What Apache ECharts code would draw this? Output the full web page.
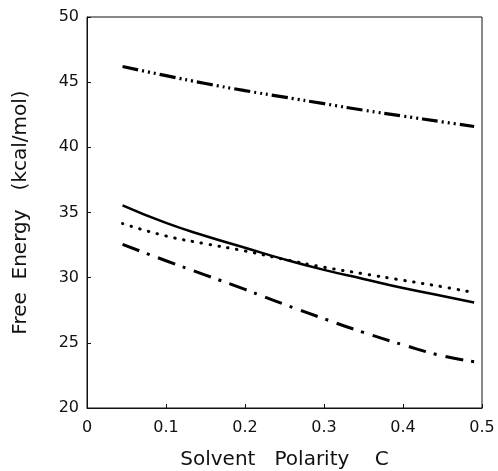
<!DOCTYPE html>
<html>
<head>
<meta charset="utf-8">
<script src="https://cdn.jsdelivr.net/npm/echarts@6/dist/echarts.min.js"></script>
<style>
html,body{margin:0;padding:0;background:#fff;}
#chart{width:498px;height:471px;}
</style>
</head>
<body>
<div id="chart"></div>
<script>
var polarity = [0.045, 0.1, 0.15, 0.2, 0.25, 0.3, 0.35, 0.4, 0.45, 0.49];
var dashDotDotSeries = [46.2, 45.5, 44.9, 44.35, 43.85, 43.35, 42.85, 42.4, 41.95, 41.6];
var solidSeries = [35.55, 34.2, 33.2, 32.3, 31.4, 30.6, 29.9, 29.2, 28.6, 28.1];
var dottedSeries = [34.15, 33.2, 32.6, 32.05, 31.4, 30.8, 30.3, 29.8, 29.3, 28.85];
var dashDotSeries = [32.55, 31.3, 30.2, 29.1, 27.95, 26.85, 25.8, 24.85, 24.0, 23.55];
var xTicks = [0, 0.1, 0.2, 0.3, 0.4, 0.5];
var yTicks = [20, 25, 30, 35, 40, 45, 50];

function pairs(ys){ return polarity.map(function(x,i){ return [x, ys[i]]; }); }

var font = '"DejaVu Sans", Arial, Helvetica, sans-serif';
var chart = echarts.init(document.getElementById('chart'), null, {renderer:'canvas'});
chart.setOption({
  animation: false,
  backgroundColor: '#fff',
  grid: {left: 87, right: 16, top: 17, bottom: 63, show: true, borderColor: '#111', borderWidth: 1, outerBoundsMode: 'none', containLabel: false},
  xAxis: {
    type: 'value', min: 0, max: 0.5, interval: 0.1,
    name: 'Solvent   Polarity    C', nameLocation: 'middle', nameGap: 42,
    nameTextStyle: {fontFamily: font, fontSize: 20, color: '#111'},
    axisLine: {show: true, lineStyle: {color: '#111', width: 1}},
    axisTick: {show: true, inside: true, length: 4, lineStyle: {color: '#111'}},
    axisLabel: {fontFamily: font, fontSize: 16, color: '#111', margin: 12,
      formatter: function(v){ return xTicks.indexOf(Math.round(v*10)/10) >= 0 ? String(Math.round(v*10)/10) : ''; }},
    splitLine: {show: false}
  },
  yAxis: {
    type: 'value', min: 20, max: 50, interval: 5,
    name: 'Free  Energy   (kcal/mol)', nameLocation: 'middle', nameGap: 56,
    nameTextStyle: {fontFamily: font, fontSize: 20, color: '#111'},
    axisLine: {show: true, lineStyle: {color: '#111', width: 1}},
    axisTick: {show: true, inside: true, length: 4, lineStyle: {color: '#111'}},
    axisLabel: {fontFamily: font, fontSize: 16, color: '#111', margin: 8,
      formatter: function(v){ return yTicks.indexOf(v) >= 0 ? String(v) : ''; }},
    splitLine: {show: false}
  },
  series: [
    {type: 'line', data: pairs(dashDotDotSeries), showSymbol: false, smooth: true,
      lineStyle: {color: '#000', width: 3.2, type: [16, 4, 2, 4, 2, 4, 2, 4]}},
    {type: 'line', data: pairs(solidSeries), showSymbol: false, smooth: true,
      lineStyle: {color: '#000', width: 2.5, type: 'solid'}},
    {type: 'line', data: pairs(dottedSeries), showSymbol: false, smooth: true,
      lineStyle: {color: '#000', width: 3, type: [0.5, 8.5], cap: 'round'}},
    {type: 'line', data: pairs(dashDotSeries), showSymbol: false, smooth: true,
      lineStyle: {color: '#000', width: 3, type: [18, 8, 3, 9]}}
  ]
});
</script>
</body>
</html>
